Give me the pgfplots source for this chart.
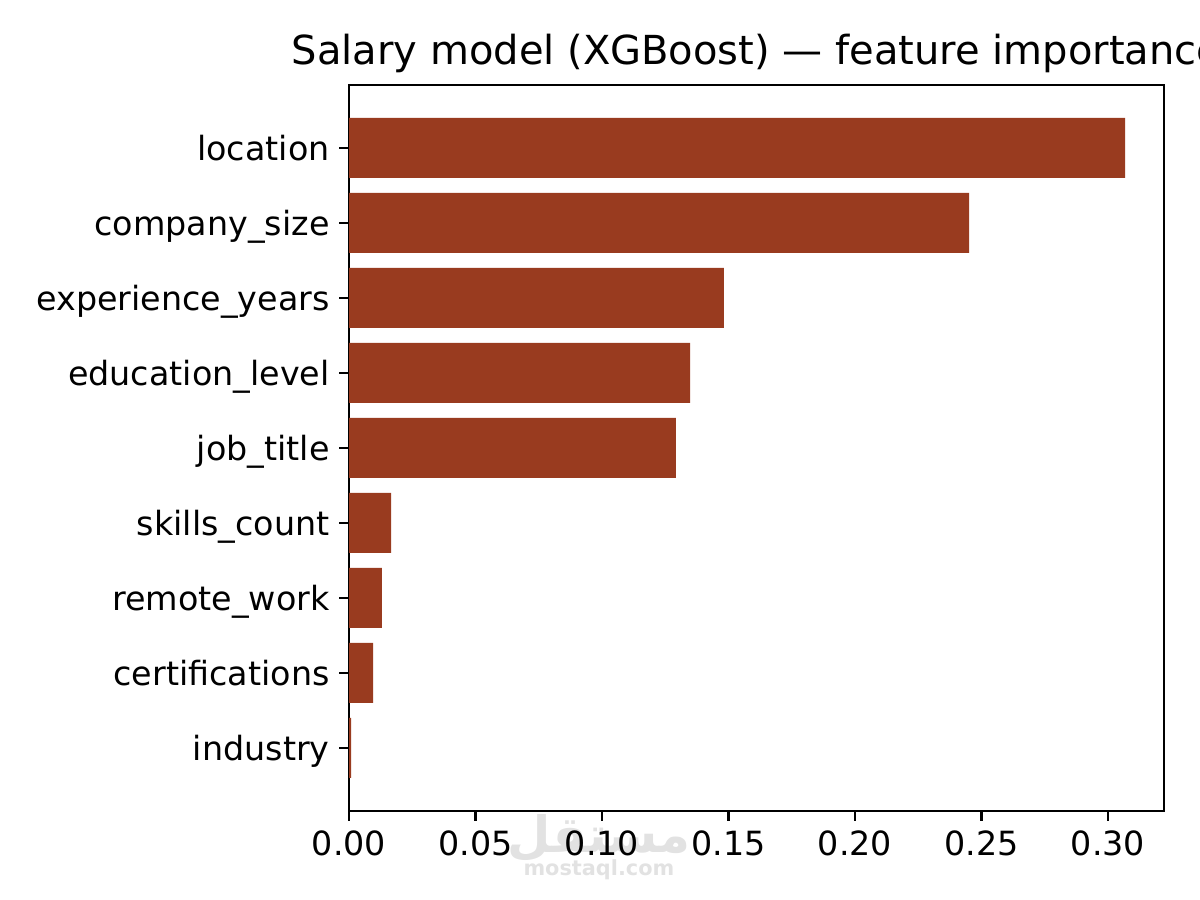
\documentclass[border=0pt]{standalone}
\usepackage{pgfplots}
\pgfplotsset{compat=1.18}
\usepackage{fontspec}
\setmainfont{DejaVu Sans}
\newfontfamily\arabicfont[Script=Arabic]{DejaVu Sans}
\TeXXeTstate=1
\definecolor{barcol}{RGB}{153,59,31}
\definecolor{wm}{RGB}{226,226,226}
\begin{document}
\begin{tikzpicture}
\useasboundingbox (0,0) rectangle (432bp,324bp);
\node[text=wm,font={\arabicfont\bfseries\fontsize{18bp}{20bp}\selectfont}] at (215.6bp,22.3bp) {\beginR مستقل\endR};
\node[text=wm,font={\bfseries\fontsize{7.5bp}{9bp}\selectfont}] at (215.6bp,10.8bp) {mostaql.com};
\begin{axis}[
  at={(125.64bp,32.04bp)}, anchor=south west,
  scale only axis, width=293.4bp, height=261.36bp,
  xbar, bar width=0.8,
  xmin=0, xmax=0.3221, ymin=-0.84, ymax=8.84,
  axis line style={line width=0.8bp},
  every tick/.style={black, line width=0.8bp},
  tick align=outside, major tick length=3.5bp,
  xtick pos=bottom, ytick pos=left,
  xtick={0,0.05,0.10,0.15,0.20,0.25,0.30},
  ytick={0,...,8},
  yticklabels={industry,certifications,remote\_work,skills\_count,job\_title,education\_level,experience\_years,company\_size,location},
  scaled x ticks=false,
  /pgf/number format/.cd, fixed, fixed zerofill, precision=2, assume math mode=true,
  /pgfplots/.cd,
  ticklabel style={font=\fontsize{12bp}{14bp}\selectfont},
  yticklabel style={anchor=base east, yshift=-4.5bp},
  clip=false,
]
\addplot[fill=barcol, draw=none] coordinates {
(0.0008,0) (0.0095,1) (0.0130,2) (0.0166,3) (0.1292,4) (0.1348,5) (0.1482,6) (0.2451,7) (0.3067,8)};
\node[anchor=base, font=\fontsize{14.4bp}{17bp}\selectfont, yshift=7.2bp] at (rel axis cs:0.5,1) {Salary model (XGBoost) — feature importance};
\end{axis}
\end{tikzpicture}
\end{document}
